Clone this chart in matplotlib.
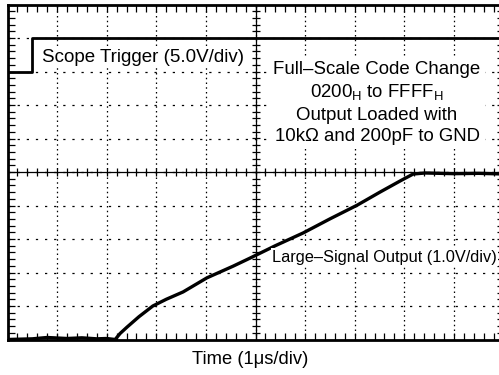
import matplotlib
matplotlib.use("Agg")
import matplotlib.pyplot as plt
import numpy as np

plt.rcParams['font.family'] = ['Liberation Sans', 'DejaVu Sans']

# scope trigger trace (divisions)
trig_t = [0.0, 0.49, 0.49, 10.0]
trig_v = [8.0, 8.0, 9.0, 9.0]

# large-signal output trace (divisions)
out_t = [0.0, 0.5, 0.8, 1.2, 1.5, 1.8, 2.0, 2.17, 2.27, 2.41, 2.65, 2.93, 3.2, 3.54,
         4.02, 4.55, 4.89, 5.4, 5.96, 6.5, 7.05, 7.51, 7.95, 8.18, 8.42, 9.0, 9.5, 10.0]
out_v = [0.0, 0.02, 0.06, 0.03, 0.05, 0.02, 0.03, 0.0, 0.18, 0.37, 0.68, 1.0, 1.2, 1.42,
         1.84, 2.19, 2.43, 2.8, 3.18, 3.6, 4.01, 4.40, 4.76, 4.94, 4.97, 4.95, 4.96, 4.94]

fig = plt.figure(figsize=(4.99, 3.75), dpi=100)
ax = fig.add_axes([7.5 / 499, (375 - 339.5) / 375, 496 / 499, 335 / 375])
ax.set_xlim(0, 10)
ax.set_ylim(0, 10)

# dotted graticule
for k in range(1, 10):
    ax.axvline(k, color='k', lw=0.9, ls=(0, (1.2, 2.6)), zorder=1)
    ax.axhline(k, color='k', lw=0.9, ls=(0, (1.8, 5.5)), zorder=1)

# centre axes with ticks
ax.axhline(5, color='k', lw=0.9, zorder=2)
ax.axvline(5, color='k', lw=0.9, zorder=2)
minor = np.arange(0.2, 10, 0.2)
ax.plot(minor, np.full_like(minor, 5), ls='none', marker='|', ms=6, mew=0.9, color='k', zorder=2)
ax.plot(np.full_like(minor, 5), minor, ls='none', marker='_', ms=6, mew=0.9, color='k', zorder=2)

ax.set_xticks(np.arange(0, 10.01, 0.2))
ax.set_yticks(np.arange(0, 10.01, 0.2))
ax.tick_params(direction='in', length=5, width=0.9, top=True, right=True,
               labelbottom=False, labelleft=False)
for s in ax.spines.values():
    s.set_linewidth(2)

ax.plot(trig_t, trig_v, color='k', lw=2, zorder=4)
ax.plot(out_t, out_v, color='k', lw=2.4, zorder=4, solid_joinstyle='round')

ax.text(0.70, 8.43, 'Scope Trigger (5.0V/div)', fontsize=13.5, va='center', ha='left',
        zorder=5, bbox=dict(facecolor='white', edgecolor='none', pad=1))

box_text = ('Full\u2013Scale Code Change\n'
            '0200$_\\mathregular{H}$ to FFFF$_\\mathregular{H}$\n'
            'Output Loaded with\n'
            '10k\u03a9 and 200pF to GND')
ax.text(7.45, 7.06, box_text, fontsize=13.4, ha='center', va='center', linespacing=1.3,
        zorder=5, bbox=dict(facecolor='white', edgecolor='none', pad=3))

ax.text(5.33, 2.46, 'Large\u2013Signal Output (1.0V/div)', fontsize=11.8, ha='left', va='center',
        zorder=5, bbox=dict(facecolor='white', edgecolor='none', pad=1))

fig.text(250 / 499, 1 - 360 / 375, 'Time (1\u03bcs/div)', fontsize=13.2, ha='center', va='center')

fig.savefig('out.png', dpi=100)
